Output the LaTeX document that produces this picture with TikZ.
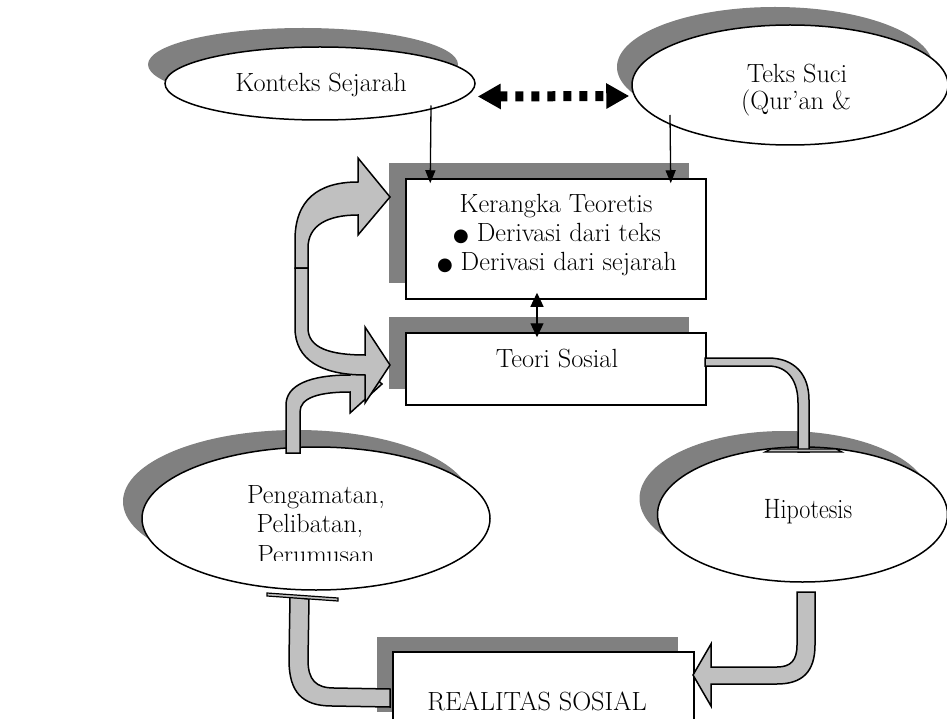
\documentclass[tikz,border=0pt]{standalone}
\usepackage{fontspec}
\newfontfamily\symfont{DejaVu Sans}
\usetikzlibrary{shapes.geometric,arrows.meta,shadows}
\definecolor{shgray}{HTML}{808080}
\definecolor{argray}{HTML}{C0C0C0}
\begin{document}
\begin{tikzpicture}[x=1pt,y=-1pt,
  lbl/.style={font=\fontsize{26.3}{30}\selectfont, inner sep=0pt, anchor=base},
  ell/.style={ellipse, draw, line width=1.5pt, fill=white, inner sep=0pt},
  boxn/.style={rectangle, draw, line width=1.5pt, fill=white, inner sep=0pt},
  blockar/.style={fill=argray, draw=black, line width=1.5pt, line join=miter},
  thinar/.style={line width=1.3pt, -{Triangle[length=13pt,width=10pt]}},
  dblar/.style={line width=1.3pt, {Triangle[length=14pt,width=13pt]}-{Triangle[length=14pt,width=13pt]}},
  dotar/.style={line width=10pt, dash pattern=on 8pt off 8pt, {Triangle[length=23pt,width=24pt]}-{Triangle[length=23pt,width=24pt]}},
]
\useasboundingbox (0,0) rectangle (947,719);
\begin{scope}
\clip (0,0) rectangle (947,719);
% ellipses
\node[ell, general shadow={shadow xshift=-17pt, shadow yshift=19pt, fill=shgray}, minimum width=310pt, minimum height=73pt] (konteks) at (320,83.5) {};
\node[ell, general shadow={shadow xshift=-15pt, shadow yshift=18pt, fill=shgray}, minimum width=316pt, minimum height=120pt] (teks) at (790,85) {};
\node[ell, general shadow={shadow xshift=-19pt, shadow yshift=17pt, fill=shgray}, minimum width=348pt, minimum height=143pt] (peng) at (316,518.5) {};
\node[ell, general shadow={shadow xshift=-18pt, shadow yshift=16pt, fill=shgray}, minimum width=290pt, minimum height=135pt] (hipo) at (802.5,514.5) {};
% boxes
\node[boxn, general shadow={shadow xshift=-17pt, shadow yshift=16pt, fill=shgray}, minimum width=300pt, minimum height=120pt] (kerangka) at (556,239) {};
\node[boxn, general shadow={shadow xshift=-17pt, shadow yshift=16pt, fill=shgray}, minimum width=300pt, minimum height=72pt] (teori) at (556,369) {};
\node[boxn, general shadow={shadow xshift=-16pt, shadow yshift=15pt, fill=shgray}, minimum width=301pt, minimum height=75pt] (realitas) at (543.5,689.5) {};
% texts
\node[lbl] (tKonteks) at (321,92) {Konteks Sejarah};
\node[lbl] (tTeks1) at (797,83) {Teks Suci};
\node[lbl] (tTeks2) at (796,110) {(Qur’an \&};
\node[lbl] (tK1) at (556,213) {Kerangka Teoretis};
\node[lbl] (tK2) at (557,242) {{\symfont\fontsize{18}{18}\selectfont ●} Derivasi dari teks};
\node[lbl] (tK3) at (557,270) {{\symfont\fontsize{18}{18}\selectfont ●} Derivasi dari sejarah};
\node[lbl] (tTeori) at (557,367) {Teori Sosial};
\node[lbl] (tP1) at (316,503) {Pengamatan,};
\node[lbl] (tP2) at (310,532) {Pelibatan,};
\begin{scope}
\clip (0,0) rectangle (947,560);
\node[lbl] (tP3) at (316,563) {Perumusan};
\end{scope}
\node[font=\fontsize{28}{32}\selectfont, inner sep=0pt, anchor=base] (tHipo) at (808,518) {\scalebox{0.86}[1]{Hipotesis}};
\node[lbl] (tReal) at (537,710) {REALITAS SOSIAL};
% thin connectors
\draw[thinar] ([xshift=111pt,yshift=-22pt]konteks.center) -- ([xshift=25pt,yshift=-5pt]kerangka.north west);
\draw[thinar] ([xshift=-120pt,yshift=-30pt]teks.center) -- ([xshift=-36pt,yshift=-5pt]kerangka.north east);
\draw[dblar] ([xshift=-19pt,yshift=7pt]kerangka.south) -- ([xshift=-19pt,yshift=-5pt]teori.north);
\draw[dotar] ([xshift=2pt,yshift=-13pt]konteks.east) -- ([xshift=-2pt,yshift=-11pt]teks.west);
% block arrows
\draw[blockar] (286,453) -- (286,405) .. controls (286,385) and (310,375) .. (350,375) -- (350,355) -- (382,384) -- (350,413) -- (350,392) .. controls (318,392) and (300,398) .. (300,412) -- (300,453) -- cycle;
\draw[blockar] (295,268) -- (295,240) .. controls (295,200) and (318,182) .. (358,182) -- (358,158) -- (390,197) -- (358,235) -- (358,215) .. controls (328,215) and (308,225) .. (308,248) -- (308,268) -- cycle;
\draw[blockar] (295,268) -- (295,328) .. controls (295,360) and (322,375) .. (365,375) -- (365,403) -- (390,365) -- (365,327) -- (365,355) .. controls (330,355) and (308,348) .. (308,328) -- (308,268) -- cycle;
\draw[blockar] (705,358) -- (768,358) .. controls (795,358) and (809,375) .. (809,400) -- (809,452) -- (798,452) -- (798,403) .. controls (798,382) and (789,366) .. (768,366) -- (705,366) -- cycle;
\draw[blockar, line width=1.2pt] (765,452) -- (842,452) -- (836,449) -- (771,449) -- cycle;
\draw[blockar] (290,597) -- (289,660) .. controls (289,692) and (302,706) .. (332,706) -- (390,707) -- (390,689) -- (334,688) .. controls (316,688) and (308,680) .. (308,660) -- (309,599) -- cycle;
\draw[blockar, line width=1.2pt] (267,593) -- (338,598) -- (338,601) -- (267,596) -- cycle;
\draw[blockar] (797,592) -- (815,592) -- (815,645) .. controls (815,672) and (802,684) .. (777,684) -- (711,684) -- (711,706) -- (693,675) -- (711,644) -- (711,667) -- (777,667) .. controls (791,667) and (797,660) .. (797,645) -- cycle;
\end{scope}
\end{tikzpicture}
\end{document}
